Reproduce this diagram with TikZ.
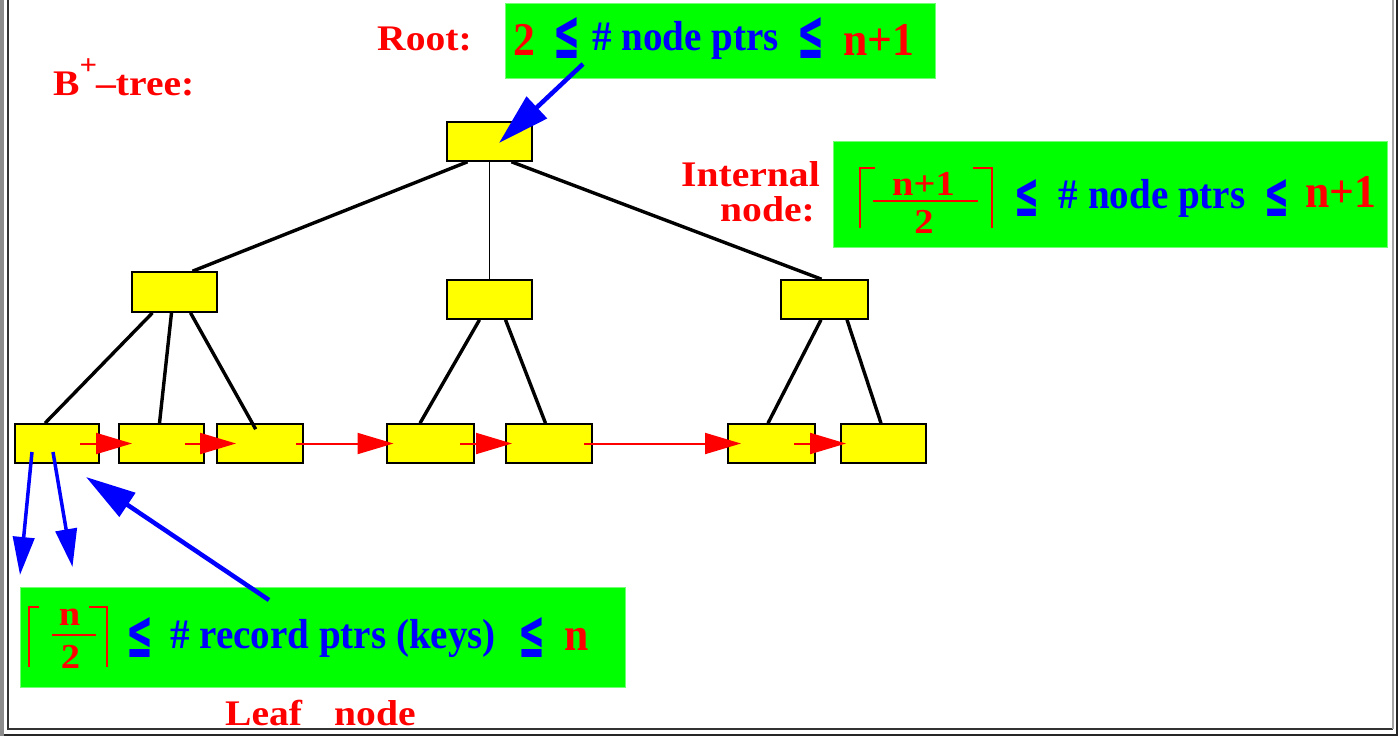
\documentclass[tikz,border=0pt]{standalone}
\usepackage{fontspec}
\usepackage{graphicx}
\usetikzlibrary{arrows.meta,calc}
\newfontfamily\labfont{Liberation Serif}[FakeStretch=1.1]
\newfontfamily\txtfont{Liberation Serif}[FakeStretch=0.93]
\newfontfamily\symfont{DejaVu Sans}
\definecolor{grn}{HTML}{00FF00}
\definecolor{yel}{HTML}{FFFF00}
\newcommand\LEsym[2]{\resizebox*{#1}{#2}{\symfont\bfseries ≤}}
\tikzset{
  treenode/.style={draw=black, fill=yel, line width=1.6pt, minimum width=85pt, minimum height=39pt, inner sep=0pt},
  greenbox/.style={fill=grn, draw=grn!55!white, line width=1pt, inner sep=0pt},
  lab/.style={text=red, font={\labfont\bfseries\fontsize{36}{40}\selectfont}, inner sep=0pt},
  bluetxt/.style={text=blue, font={\txtfont\bfseries\fontsize{42}{46}\selectfont}, inner sep=0pt},
  redbig/.style={text=red, font={\txtfont\bfseries\fontsize{47}{50}\selectfont}, inner sep=0pt},
  redfrac/.style={text=red, font={\labfont\bfseries\fontsize{35}{40}\selectfont}, inner sep=0pt},
  lesym/.style={text=blue, inner sep=0pt, anchor=center},
  treeline/.style={line width=3.4pt, black},
  chainarrow/.style={red, line width=2pt, -{Triangle[length=36pt,width=21pt]}},
  bluearrow/.style={blue, -{Triangle[length=#1pt,width=0.56*#1pt]}},
  ceilline/.style={red, line width=1.6pt},
}
\begin{document}
\begin{tikzpicture}[x=1pt,y=-1pt]
\useasboundingbox (0,0) rectangle (1398,736);
% window frame
\fill[gray!90] (0,0) rectangle (4,736);
\draw[black!80, line width=1.5pt] (8,0) -- (8,729) -- (1393,729);
\draw[gray!70, line width=1.5pt] (1393,0) -- (1393,729);
\draw[black!85, line width=2pt] (4,734.5) -- (1398,734.5);
\draw[black!85, line width=2pt] (1397,0) -- (1397,736);

% green boxes
\node[greenbox, minimum width=430pt, minimum height=75pt] (rootbox) at (720,40.5) {};
\node[greenbox, minimum width=554pt, minimum height=106pt] (intbox) at (1110,194) {};
\node[greenbox, minimum width=605pt, minimum height=100pt] (leafbox) at (322.5,637) {};

% labels
\node[lab, anchor=base west] (title) at (53,95) {B\raisebox{21pt}{\fontsize{28}{28}\selectfont +}\kern-1pt–tree:};
\node[lab, anchor=base west] (rootlab) at (377,50) {Root:};
\node[lab, anchor=base east] (intlab1) at (820,186) {Internal};
\node[lab, anchor=base east] (intlab2) at (815,221) {node:};
\node[lab, anchor=base west] (leaflab) at (225,725) {Leaf\hspace{32pt}node};

% root box text
\node[redbig, anchor=base west] (r2) at (513,55) {2};
\node[lesym] (rle1) at (566.5,37.5) {\LEsym{27pt}{41pt}};
\node[bluetxt, anchor=base west] (rtxt) at (592,50) {\# node ptrs};
\node[lesym] (rle2) at (811,37.5) {\LEsym{27pt}{41pt}};
\node[redbig, anchor=base west] (rn1) at (843,55) {n+1};

% internal box text
\draw[ceilline] (875,168) -- (860,168) -- (860,228);
\draw[ceilline] (973,168) -- (992,168) -- (992,228);
\draw[red, line width=2pt] (873,201) -- (978,201);
\node[redfrac, anchor=base] (inum) at (923.5,195) {n+1};
\node[redfrac, anchor=base] (iden) at (924,233) {2};
\node[lesym] (ile1) at (1026.5,197.5) {\LEsym{25pt}{37pt}};
\node[bluetxt, anchor=base west] (itxt) at (1058.6,208) {\# node ptrs};
\node[lesym] (ile2) at (1276.5,197.5) {\LEsym{25pt}{37pt}};
\node[redbig, anchor=base west] (in1) at (1305,207) {n+1};

% leaf box text
\draw[ceilline] (39,607) -- (29,607) -- (29,667);
\draw[ceilline] (89,607) -- (107,607) -- (107,667);
\draw[red, line width=1.6pt] (52,635) -- (96,635);
\node[redfrac, anchor=base] (lnum) at (69.5,625) {n};
\node[redfrac, anchor=base] (lden) at (70.5,668) {2};
\node[lesym] (lle1) at (139.5,637) {\LEsym{27pt}{40pt}};
\node[bluetxt, anchor=base west] (ltxt) at (170,648) {\# record ptrs (keys)};
\node[lesym] (lle2) at (531.5,637) {\LEsym{27pt}{40pt}};
\node[redbig, anchor=base west] (ln) at (564,650) {n};

% tree nodes
\node[treenode] (root) at (489.5,141.5) {};
\node[treenode, minimum height=40pt] (A) at (174.5,292) {};
\node[treenode] (B) at (489.5,299.5) {};
\node[treenode, minimum width=87pt] (C) at (824.5,299.5) {};
\node[treenode, minimum width=84pt] (L1) at (57,443.5) {};
\node[treenode] (L2) at (161.5,443.5) {};
\node[treenode, minimum width=86pt] (L3) at (260,443.5) {};
\node[treenode, minimum width=87pt] (L4) at (430.5,443.5) {};
\node[treenode, minimum width=86pt] (L5) at (549,443.5) {};
\node[treenode, minimum width=87pt] (L6) at (771.5,443.5) {};
\node[treenode] (L7) at (883.5,443.5) {};

% tree connectors
\draw[treeline] ([xshift=-22pt]root.south) -- ([xshift=18pt]A.north);
\draw[black, line width=1.6pt] (root.south) -- (B.north);
\draw[treeline] ([xshift=22pt]root.south) -- ([xshift=-3pt]C.north);
\draw[treeline] ([xshift=-22pt]A.south) -- ([xshift=-12pt]L1.north);
\draw[treeline] ([xshift=-3pt]A.south) -- ([xshift=-2pt]L2.north);
\draw[treeline] ([xshift=16pt]A.south) -- ([xshift=-4.3pt,yshift=-6pt]L3.north);
\draw[treeline] ([xshift=-10pt]B.south) -- ([xshift=-10.5pt]L4.north);
\draw[treeline] ([xshift=16pt]B.south) -- ([xshift=-3.5pt]L5.north);
\draw[treeline] ([xshift=-3.5pt]C.south) -- ([xshift=-3.5pt]L6.north);
\draw[treeline] ([xshift=22.5pt]C.south) -- ([xshift=-2.5pt]L7.north);

% leaf chain
\draw[chainarrow] ([xshift=23pt]L1.center) -- ([xshift=-29.5pt]L2.center);
\draw[chainarrow] ([xshift=23pt]L2.center) -- ([xshift=-24pt]L3.center);
\draw[chainarrow] ([xshift=36pt]L3.center) -- ([xshift=-37pt]L4.center);
\draw[chainarrow] ([xshift=29.5pt]L4.center) -- ([xshift=-37pt]L5.center);
\draw[chainarrow] ([xshift=35pt]L5.center) -- ([xshift=-30.5pt]L6.center);
\draw[chainarrow] ([xshift=22.5pt]L6.center) -- ([xshift=-37.5pt]L7.center);

% blue arrows
\coordinate (p1end) at (20,575);
\coordinate (p2end) at (72.5,567);
\draw[bluearrow=38, line width=3.5pt] ([xshift=-25pt,yshift=-8.5pt]L1.center) -- (p1end);
\draw[bluearrow=38, line width=3.5pt] ([xshift=-4pt,yshift=-8.5pt]L1.center) -- (p2end);
\draw[bluearrow=50, line width=4.5pt] ([xshift=-53.5pt,yshift=37pt]leafbox.center) -- ([xshift=29pt,yshift=-33.5pt]L1.center);
\draw[bluearrow=52, line width=4.5pt] ([xshift=-137pt,yshift=-23.5pt]rootbox.center) -- ([xshift=9.5pt,yshift=-1.5pt]root.center);
\end{tikzpicture}
\end{document}
